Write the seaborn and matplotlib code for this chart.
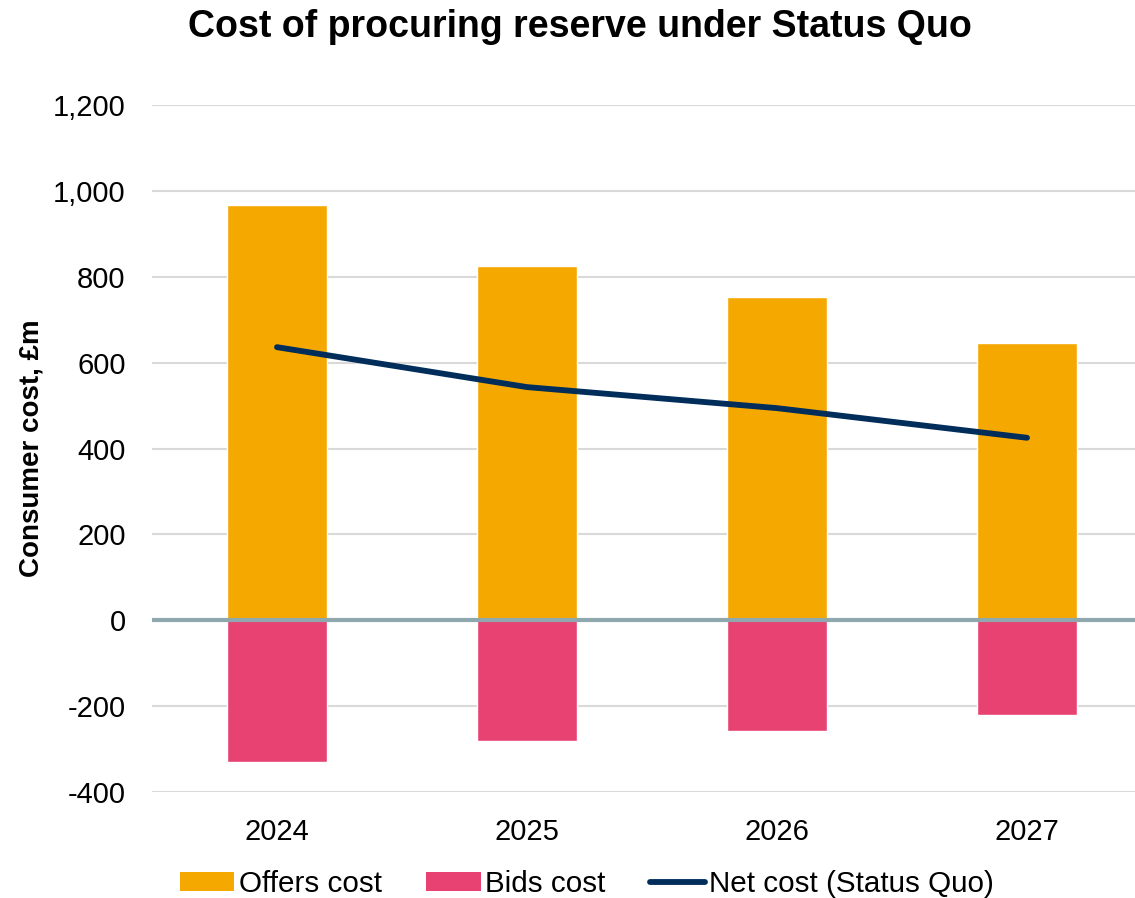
import numpy as np
import pandas as pd
import matplotlib
matplotlib.use("Agg")
import matplotlib.pyplot as plt
import seaborn as sns
from matplotlib.patches import Patch
from matplotlib.lines import Line2D

years = ["2024", "2025", "2026", "2027"]
offers = [967, 825, 753, 646]
bids = [-331, -282, -259, -221]
net = [636, 543, 494, 425]

sns.set_theme(style="white")
plt.rcParams["font.family"] = ["Liberation Sans", "DejaVu Sans"]
plt.rcParams["text.color"] = "black"
plt.rcParams["axes.labelcolor"] = "black"

C_OFF = "#F5A800"
C_BID = "#E84272"
C_NET = "#002D5A"

fig = plt.figure(figsize=(11.35, 8.98), dpi=100)
ax = fig.add_axes([152/1135, 1-792/898, 1000/1135, (792-105)/898])

df = pd.DataFrame({"year": years, "offers": offers, "bids": bids, "net": net})
sns.barplot(data=df, x="year", y="offers", color=C_OFF, width=0.4, saturation=1, ax=ax, zorder=3)
sns.barplot(data=df, x="year", y="bids", color=C_BID, width=0.4, saturation=1, ax=ax, zorder=3)
sns.lineplot(x=np.arange(len(years)), y=net, color=C_NET, linewidth=4.2, ax=ax, zorder=5,
             solid_capstyle="round", solid_joinstyle="round")

ax.set_ylim(-400, 1200)
ax.set_yticks(range(-400, 1201, 200))
ax.set_yticklabels([f"{v:,}" for v in range(-400, 1201, 200)])
ax.set_xlim(-0.5, 3.5)
ax.set_xticks(range(len(years)))
ax.set_xticklabels(years)
ax.grid(axis="y", color="#D9D9D9", linewidth=1.5, zorder=0)
ax.axhline(0, color="#8FA8AE", linewidth=3, zorder=4)
for s in ax.spines.values():
    s.set_visible(False)
ax.tick_params(axis="both", length=0, labelsize=21, colors="black")
ax.tick_params(axis="y", pad=19)
ax.tick_params(axis="x", pad=19)
ax.set_xlabel("")
ax.set_ylabel("Consumer cost, £m", fontsize=20, fontweight="bold", color="black")
ax.yaxis.set_label_coords(-0.107, 0.5)

fig.text(580/1135, 1-27/898, "Cost of procuring reserve under Status Quo",
         ha="center", va="center", fontsize=27, fontweight="bold", color="black")

handles = [Patch(facecolor=C_OFF, edgecolor="none"),
           Patch(facecolor=C_BID, edgecolor="none"),
           Line2D([0], [0], color=C_NET, linewidth=4.2, solid_capstyle="round")]
labels = ["Offers cost", "Bids cost", "Net cost (Status Quo)"]
fig.legend(handles, labels, loc="center", bbox_to_anchor=(587/1135, 1-884/898),
           ncol=3, frameon=False, fontsize=21.3, handlelength=1.85, handleheight=0.6,
           handletextpad=0.15, columnspacing=1.5, borderaxespad=0)

fig.savefig("out.png", dpi=100)
